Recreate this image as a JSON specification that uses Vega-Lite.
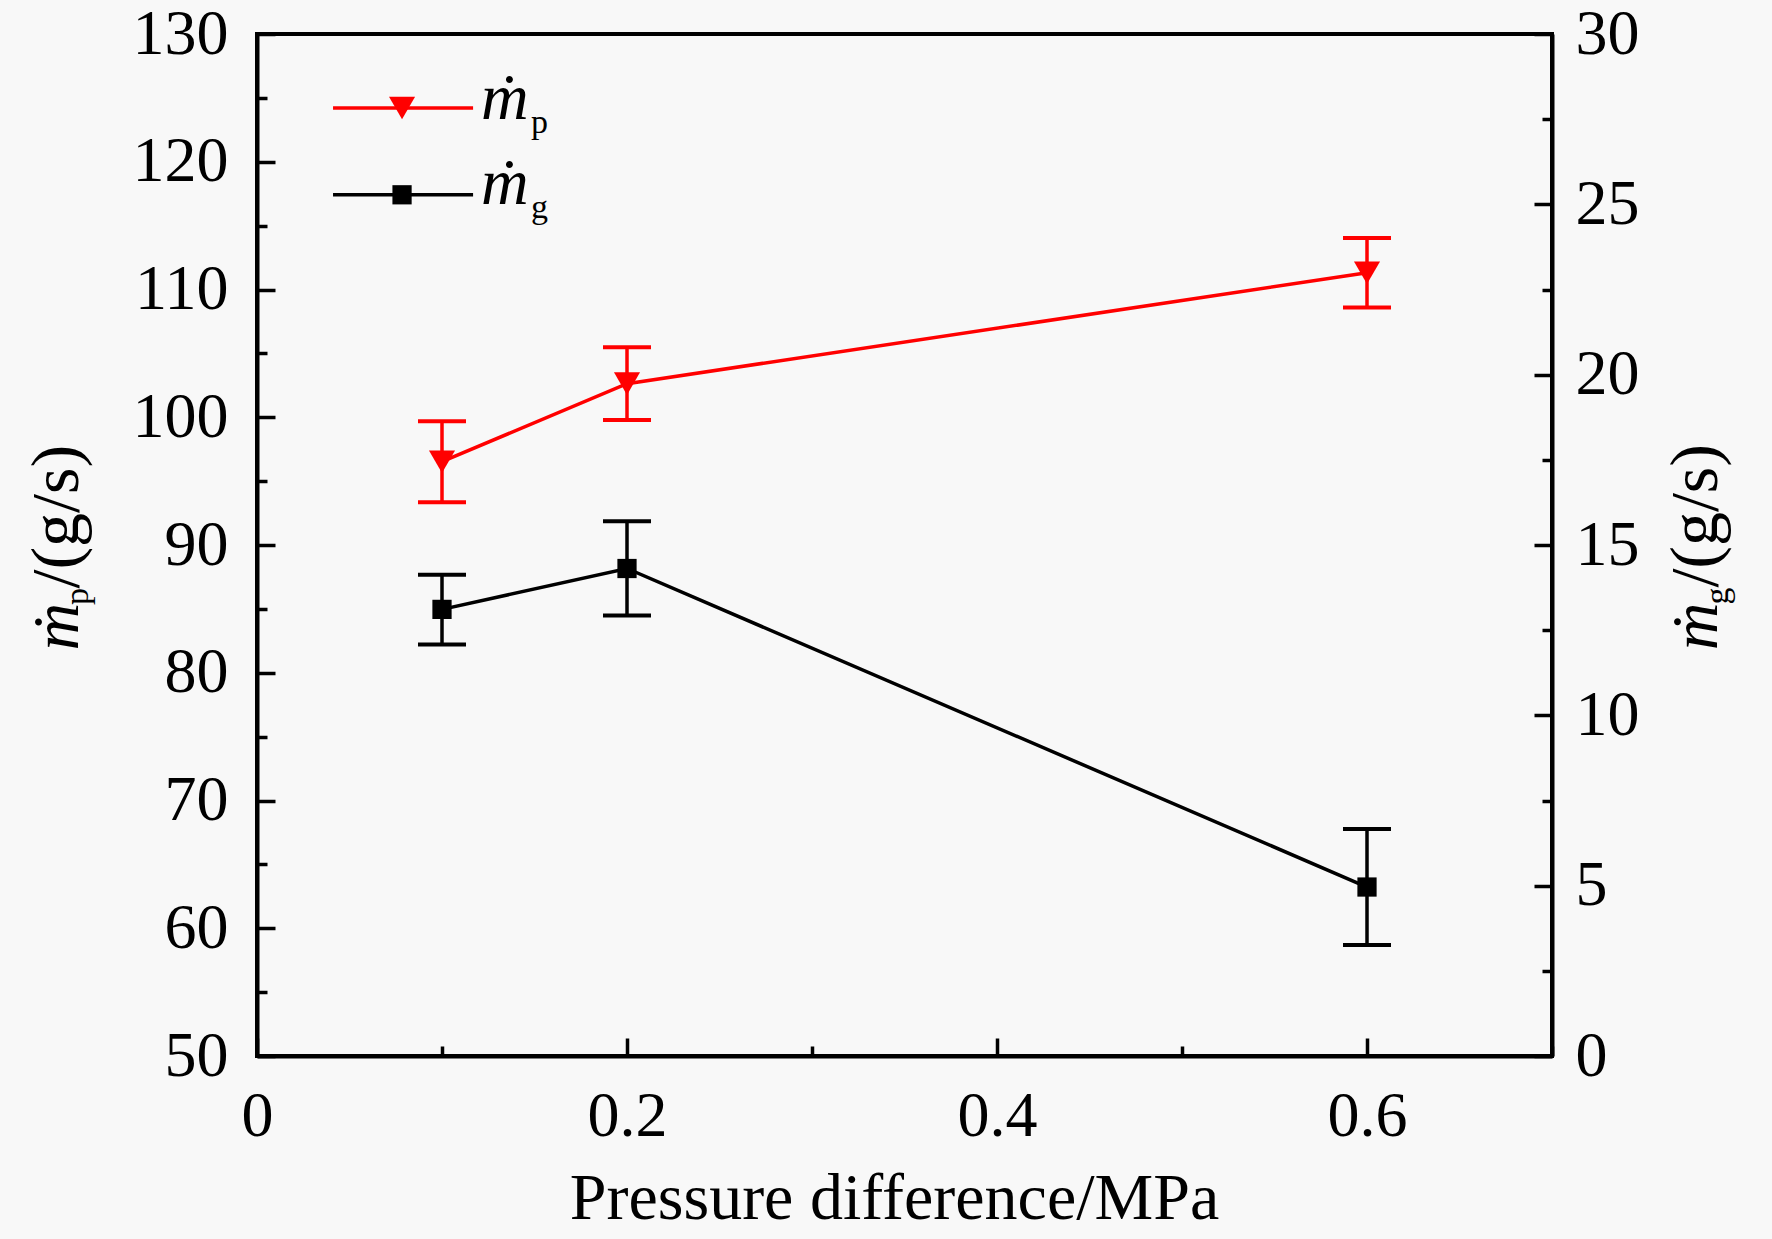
{
  "$schema": "https://vega.github.io/schema/vega-lite/v6.json",
  "width": 1295,
  "height": 1022,
  "autosize": {"type": "none"},
  "padding": {"left": 257, "top": 34, "right": 220, "bottom": 183},
  "background": "#f8f8f8",
  "datasets": {
    "points": [
      {"series": "p", "pressure": 0.1, "rate": 96.52, "lower": 93.35, "upper": 99.69},
      {"series": "p", "pressure": 0.2, "rate": 102.63, "lower": 99.79, "upper": 105.47},
      {"series": "p", "pressure": 0.6, "rate": 111.31, "lower": 108.6, "upper": 114.03},
      {"series": "g", "pressure": 0.1, "rate": 13.11, "lower": 12.08, "upper": 14.13},
      {"series": "g", "pressure": 0.2, "rate": 14.31, "lower": 12.93, "upper": 15.7},
      {"series": "g", "pressure": 0.6, "rate": 4.96, "lower": 3.26, "upper": 6.66}
    ],
    "labels": [
      {"series": "p", "sym": "ṁ", "sub": "p", "unit": "/(g/s)"},
      {"series": "g", "sym": "ṁ", "sub": "g", "unit": "/(g/s)"}
    ]
  },
  "layer": [
    {
      "layer": [
        {
          "data": {"name": "points"},
          "transform": [{"filter": "datum.series == 'p'"}],
          "mark": {"type": "rule", "color": "#ff0000", "strokeWidth": 3.5},
          "encoding": {
            "x": {
              "field": "pressure", "type": "quantitative",
              "scale": {"domain": [0, 0.7], "nice": false},
              "axis": {
                "title": "Pressure difference/MPa",
                "titleX": 637,
                "values": [0, 0.1, 0.2, 0.3, 0.4, 0.5, 0.6, 0.7],
                "labelExpr": "round(datum.value*10) % 2 == 0 ? (datum.value == 0 ? '0' : format(datum.value, '.1f')) : ''",
                "tickSize": {"condition": {"test": "round(datum.value*10) % 2 == 0", "value": -18}, "value": -10},
                "labelPadding": 46,
                "titlePadding": 10
              }
            },
            "y": {
              "field": "lower", "type": "quantitative",
              "scale": {"domain": [50, 130], "nice": false},
              "axis": {
                "orient": "left",
                "title": null,
                "values": [50, 55, 60, 65, 70, 75, 80, 85, 90, 95, 100, 105, 110, 115, 120, 125, 130],
                "labelExpr": "datum.value % 10 == 0 ? datum.label : ''",
                "tickSize": {"condition": {"test": "datum.value % 10 == 0", "value": -18}, "value": -10},
                "labelPadding": 47
              }
            },
            "y2": {"field": "upper"}
          }
        },
        {
          "data": {"name": "points"},
          "transform": [{"filter": "datum.series == 'p'"}],
          "mark": {"type": "tick", "orient": "horizontal", "color": "#ff0000", "size": 48, "thickness": 4, "opacity": 1},
          "encoding": {
            "x": {"field": "pressure", "type": "quantitative", "scale": {"domain": [0, 0.7], "nice": false}},
            "y": {"field": "lower", "type": "quantitative", "scale": {"domain": [50, 130], "nice": false}}
          }
        },
        {
          "data": {"name": "points"},
          "transform": [{"filter": "datum.series == 'p'"}],
          "mark": {"type": "tick", "orient": "horizontal", "color": "#ff0000", "size": 48, "thickness": 4, "opacity": 1},
          "encoding": {
            "x": {"field": "pressure", "type": "quantitative", "scale": {"domain": [0, 0.7], "nice": false}},
            "y": {"field": "upper", "type": "quantitative", "scale": {"domain": [50, 130], "nice": false}}
          }
        },
        {
          "data": {"name": "points"},
          "transform": [{"filter": "datum.series == 'p'"}],
          "mark": {"type": "line", "color": "#ff0000", "strokeWidth": 3.5},
          "encoding": {
            "x": {"field": "pressure", "type": "quantitative", "scale": {"domain": [0, 0.7], "nice": false}},
            "y": {"field": "rate", "type": "quantitative", "scale": {"domain": [50, 130], "nice": false}}
          }
        },
        {
          "data": {"name": "points"},
          "transform": [{"filter": "datum.series == 'p'"}],
          "mark": {"type": "point", "shape": "triangle-down", "filled": true, "color": "#ff0000", "size": 680, "opacity": 1},
          "encoding": {
            "x": {"field": "pressure", "type": "quantitative", "scale": {"domain": [0, 0.7], "nice": false}},
            "y": {"field": "rate", "type": "quantitative", "scale": {"domain": [50, 130], "nice": false}}
          }
        },
        {
          "data": {"name": "labels"},
          "transform": [{"filter": "datum.series == 'p'"}],
          "mark": {"type": "rule", "color": "#ff0000", "strokeWidth": 3.5},
          "encoding": {
            "x": {"datum": 0.0411, "type": "quantitative", "scale": {"domain": [0, 0.7], "nice": false}},
            "x2": {"datum": 0.1168},
            "y": {"datum": 124.21, "type": "quantitative", "scale": {"domain": [50, 130], "nice": false}}
          }
        },
        {
          "data": {"name": "labels"},
          "transform": [{"filter": "datum.series == 'p'"}],
          "mark": {"type": "point", "shape": "triangle-down", "filled": true, "color": "#ff0000", "size": 680, "opacity": 1},
          "encoding": {
            "x": {"datum": 0.0784, "type": "quantitative", "scale": {"domain": [0, 0.7], "nice": false}},
            "y": {"datum": 124.21, "type": "quantitative", "scale": {"domain": [50, 130], "nice": false}}
          }
        },
        {
          "data": {"name": "labels"},
          "transform": [{"filter": "datum.series == 'p'"}],
          "mark": {"type": "text", "font": "Liberation Serif", "fontStyle": "italic", "fontSize": 66, "align": "left", "baseline": "alphabetic", "color": "black"},
          "encoding": {
            "x": {"datum": 0.1211, "type": "quantitative", "scale": {"domain": [0, 0.7], "nice": false}},
            "y": {"datum": 123.35, "type": "quantitative", "scale": {"domain": [50, 130], "nice": false}},
            "text": {"field": "sym"}
          }
        },
        {
          "data": {"name": "labels"},
          "transform": [{"filter": "datum.series == 'p'"}],
          "mark": {"type": "text", "font": "Liberation Serif", "fontSize": 34, "align": "left", "baseline": "alphabetic", "color": "black"},
          "encoding": {
            "x": {"datum": 0.1481, "type": "quantitative", "scale": {"domain": [0, 0.7], "nice": false}},
            "y": {"datum": 122.26, "type": "quantitative", "scale": {"domain": [50, 130], "nice": false}},
            "text": {"field": "sub"}
          }
        },
        {
          "data": {"name": "labels"},
          "transform": [{"filter": "datum.series == 'p'"}],
          "mark": {"type": "text", "font": "Liberation Serif", "fontStyle": "italic", "fontSize": 66, "angle": 270, "align": "left", "baseline": "alphabetic", "color": "black"},
          "encoding": {
            "x": {"datum": -0.0968, "type": "quantitative", "scale": {"domain": [0, 0.7], "nice": false}},
            "y": {"datum": 81.75, "type": "quantitative", "scale": {"domain": [50, 130], "nice": false}},
            "text": {"field": "sym"}
          }
        },
        {
          "data": {"name": "labels"},
          "transform": [{"filter": "datum.series == 'p'"}],
          "mark": {"type": "text", "font": "Liberation Serif", "fontSize": 34, "angle": 270, "align": "left", "baseline": "alphabetic", "color": "black"},
          "encoding": {
            "x": {"datum": -0.0914, "type": "quantitative", "scale": {"domain": [0, 0.7], "nice": false}},
            "y": {"datum": 85.3, "type": "quantitative", "scale": {"domain": [50, 130], "nice": false}},
            "text": {"field": "sub"}
          }
        },
        {
          "data": {"name": "labels"},
          "transform": [{"filter": "datum.series == 'p'"}],
          "mark": {"type": "text", "font": "Liberation Serif", "fontSize": 68, "angle": 270, "align": "left", "baseline": "alphabetic", "color": "black"},
          "encoding": {
            "x": {"datum": -0.0968, "type": "quantitative", "scale": {"domain": [0, 0.7], "nice": false}},
            "y": {"datum": 86.6, "type": "quantitative", "scale": {"domain": [50, 130], "nice": false}},
            "text": {"field": "unit"}
          }
        }
      ]
    },
    {
      "layer": [
        {
          "data": {"name": "points"},
          "transform": [{"filter": "datum.series == 'g'"}],
          "mark": {"type": "rule", "color": "black", "strokeWidth": 3.5},
          "encoding": {
            "x": {"field": "pressure", "type": "quantitative", "scale": {"domain": [0, 0.7], "nice": false}},
            "y": {
              "field": "lower", "type": "quantitative",
              "scale": {"domain": [0, 30], "nice": false},
              "axis": {
                "orient": "right",
                "title": null,
                "values": [0, 2.5, 5, 7.5, 10, 12.5, 15, 17.5, 20, 22.5, 25, 27.5, 30],
                "labelExpr": "datum.value % 5 == 0 ? format(datum.value, 'd') : ''",
                "tickSize": {"condition": {"test": "datum.value % 5 == 0", "value": -18}, "value": -10},
                "labelPadding": 41
              }
            },
            "y2": {"field": "upper"}
          }
        },
        {
          "data": {"name": "points"},
          "transform": [{"filter": "datum.series == 'g'"}],
          "mark": {"type": "tick", "orient": "horizontal", "color": "black", "size": 48, "thickness": 4, "opacity": 1},
          "encoding": {
            "x": {"field": "pressure", "type": "quantitative", "scale": {"domain": [0, 0.7], "nice": false}},
            "y": {"field": "lower", "type": "quantitative", "scale": {"domain": [0, 30], "nice": false}}
          }
        },
        {
          "data": {"name": "points"},
          "transform": [{"filter": "datum.series == 'g'"}],
          "mark": {"type": "tick", "orient": "horizontal", "color": "black", "size": 48, "thickness": 4, "opacity": 1},
          "encoding": {
            "x": {"field": "pressure", "type": "quantitative", "scale": {"domain": [0, 0.7], "nice": false}},
            "y": {"field": "upper", "type": "quantitative", "scale": {"domain": [0, 30], "nice": false}}
          }
        },
        {
          "data": {"name": "points"},
          "transform": [{"filter": "datum.series == 'g'"}],
          "mark": {"type": "line", "color": "black", "strokeWidth": 3.5},
          "encoding": {
            "x": {"field": "pressure", "type": "quantitative", "scale": {"domain": [0, 0.7], "nice": false}},
            "y": {"field": "rate", "type": "quantitative", "scale": {"domain": [0, 30], "nice": false}}
          }
        },
        {
          "data": {"name": "points"},
          "transform": [{"filter": "datum.series == 'g'"}],
          "mark": {"type": "point", "shape": "square", "filled": true, "color": "black", "size": 370, "opacity": 1},
          "encoding": {
            "x": {"field": "pressure", "type": "quantitative", "scale": {"domain": [0, 0.7], "nice": false}},
            "y": {"field": "rate", "type": "quantitative", "scale": {"domain": [0, 30], "nice": false}}
          }
        },
        {
          "data": {"name": "labels"},
          "transform": [{"filter": "datum.series == 'g'"}],
          "mark": {"type": "rule", "color": "black", "strokeWidth": 3.5},
          "encoding": {
            "x": {"datum": 0.0411, "type": "quantitative", "scale": {"domain": [0, 0.7], "nice": false}},
            "x2": {"datum": 0.1168},
            "y": {"datum": 25.28, "type": "quantitative", "scale": {"domain": [0, 30], "nice": false}}
          }
        },
        {
          "data": {"name": "labels"},
          "transform": [{"filter": "datum.series == 'g'"}],
          "mark": {"type": "point", "shape": "square", "filled": true, "color": "black", "size": 370, "opacity": 1},
          "encoding": {
            "x": {"datum": 0.0784, "type": "quantitative", "scale": {"domain": [0, 0.7], "nice": false}},
            "y": {"datum": 25.28, "type": "quantitative", "scale": {"domain": [0, 30], "nice": false}}
          }
        },
        {
          "data": {"name": "labels"},
          "transform": [{"filter": "datum.series == 'g'"}],
          "mark": {"type": "text", "font": "Liberation Serif", "fontStyle": "italic", "fontSize": 66, "align": "left", "baseline": "alphabetic", "color": "black"},
          "encoding": {
            "x": {"datum": 0.1211, "type": "quantitative", "scale": {"domain": [0, 0.7], "nice": false}},
            "y": {"datum": 25.01, "type": "quantitative", "scale": {"domain": [0, 30], "nice": false}},
            "text": {"field": "sym"}
          }
        },
        {
          "data": {"name": "labels"},
          "transform": [{"filter": "datum.series == 'g'"}],
          "mark": {"type": "text", "font": "Liberation Serif", "fontSize": 34, "align": "left", "baseline": "alphabetic", "color": "black"},
          "encoding": {
            "x": {"datum": 0.1481, "type": "quantitative", "scale": {"domain": [0, 0.7], "nice": false}},
            "y": {"datum": 24.6, "type": "quantitative", "scale": {"domain": [0, 30], "nice": false}},
            "text": {"field": "sub"}
          }
        },
        {
          "data": {"name": "labels"},
          "transform": [{"filter": "datum.series == 'g'"}],
          "mark": {"type": "text", "font": "Liberation Serif", "fontStyle": "italic", "fontSize": 66, "angle": 270, "align": "left", "baseline": "alphabetic", "color": "black"},
          "encoding": {
            "x": {"datum": 0.7892, "type": "quantitative", "scale": {"domain": [0, 0.7], "nice": false}},
            "y": {"datum": 11.91, "type": "quantitative", "scale": {"domain": [0, 30], "nice": false}},
            "text": {"field": "sym"}
          }
        },
        {
          "data": {"name": "labels"},
          "transform": [{"filter": "datum.series == 'g'"}],
          "mark": {"type": "text", "font": "Liberation Serif", "fontSize": 34, "angle": 270, "align": "left", "baseline": "alphabetic", "color": "black"},
          "encoding": {
            "x": {"datum": 0.7951, "type": "quantitative", "scale": {"domain": [0, 0.7], "nice": false}},
            "y": {"datum": 13.25, "type": "quantitative", "scale": {"domain": [0, 30], "nice": false}},
            "text": {"field": "sub"}
          }
        },
        {
          "data": {"name": "labels"},
          "transform": [{"filter": "datum.series == 'g'"}],
          "mark": {"type": "text", "font": "Liberation Serif", "fontSize": 68, "angle": 270, "align": "left", "baseline": "alphabetic", "color": "black"},
          "encoding": {
            "x": {"datum": 0.7892, "type": "quantitative", "scale": {"domain": [0, 0.7], "nice": false}},
            "y": {"datum": 13.75, "type": "quantitative", "scale": {"domain": [0, 30], "nice": false}},
            "text": {"field": "unit"}
          }
        }
      ]
    }
  ],
  "resolve": {"scale": {"y": "independent"}, "axis": {"y": "independent"}},
  "config": {
    "view": {"stroke": "black", "strokeWidth": 4},
    "axis": {
      "labelFont": "Liberation Serif",
      "labelFontSize": 64,
      "labelColor": "black",
      "titleFont": "Liberation Serif",
      "titleFontSize": 66,
      "titleFontWeight": "normal",
      "titleColor": "black",
      "domainColor": "black",
      "domainWidth": 4,
      "tickColor": "black",
      "tickWidth": 3.5,
      "grid": false,
      "labelFlush": false,
      "labelOverlap": false
    }
  }
}
